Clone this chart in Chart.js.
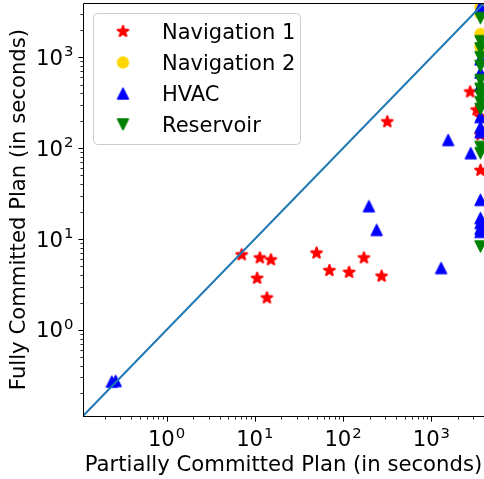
<!DOCTYPE html>
<html><head><meta charset="utf-8">
<script src="https://cdn.jsdelivr.net/npm/chart.js@4.4.0/dist/chart.umd.min.js"></script>
<style>html,body{margin:0;padding:0;background:#fff;}canvas{display:block;}</style>
</head><body>
<canvas id="c" width="484" height="479"></canvas>
<script>
const seriesNames = ['Navigation 1', 'Navigation 2', 'HVAC', 'Reservoir'];
const seriesColors = ['#ff0000', '#ffd700', '#0000ff', '#008000'];

const nav1X = [7.1, 10.6, 11.4, 13.7, 15.2, 50, 70, 117, 172, 273, 317, 2750, 3260, 3600, 3600, 3600];
const nav1Y = [6.7, 3.7, 6.2, 2.25, 5.9, 7.0, 4.5, 4.3, 6.2, 3.9, 195, 415, 263, 222, 140, 57];

const nav2X = [3600, 3600, 3600, 3600];
const nav2Y = [3600, 3000, 1800, 1300];

const hvacX = [0.24, 0.265, 196, 240, 1290, 1550, 2800, 3600, 3600, 3600, 3600, 3600, 3600, 3600, 3600, 3600, 3600, 3600, 3600];
const hvacY = [0.27, 0.275, 23, 12.6, 4.8, 123, 88, 3600, 950, 680, 490, 220, 170, 150, 27, 17, 15, 13, 12];

const resX = [3600, 3600, 3600, 3600, 3600, 3600, 3600, 3600, 3600, 3600, 3600, 3600, 3600];
const resY = [2700, 1500, 1250, 1000, 800, 560, 450, 380, 320, 270, 103, 88, 8.3];

const axisMin = 0.113, axisMax = 3950;
const diagX = [axisMin, axisMax];
const diagY = [axisMin, axisMax];

const majorTicks = [1, 10, 100, 1000];
const tickLabels = ['10^0', '10^1', '10^2', '10^3'];
const minorTicks = [0.2, 0.3, 0.4, 0.5, 0.6, 0.7, 0.8, 0.9, 2, 3, 4, 5, 6, 7, 8, 9,
  20, 30, 40, 50, 60, 70, 80, 90, 200, 300, 400, 500, 600, 700, 800, 900, 2000, 3000];

const xTitle = 'Partially Committed Plan (in seconds)';
const yTitle = 'Fully Committed Plan (in seconds)';

const FONT = '"DejaVu Sans", sans-serif';
const FS = 21.2;

function makeMarker(kind, color, size, lw) {
  const pad = 3;
  const dim = Math.ceil(size + 2 * pad);
  const c = document.createElement('canvas');
  c.width = dim; c.height = dim;
  const g = c.getContext('2d');
  const cx = dim / 2, cy = dim / 2, h = size / 2;
  g.beginPath();
  if (kind === 'star') {
    for (let i = 0; i < 10; i++) {
      const r = i % 2 === 0 ? h : h * 0.381966;
      const a = Math.PI / 2 + i * Math.PI / 5;
      const px = cx + r * Math.cos(a), py = cy - r * Math.sin(a);
      if (i === 0) g.moveTo(px, py); else g.lineTo(px, py);
    }
  } else if (kind === 'circle') {
    g.arc(cx, cy, h, 0, 2 * Math.PI);
  } else if (kind === 'up') {
    g.moveTo(cx, cy - h); g.lineTo(cx - h, cy + h); g.lineTo(cx + h, cy + h);
  } else {
    g.moveTo(cx, cy + h); g.lineTo(cx - h, cy - h); g.lineTo(cx + h, cy - h);
  }
  g.closePath();
  g.fillStyle = color; g.fill();
  g.lineWidth = lw; g.lineJoin = 'round'; g.strokeStyle = color; g.stroke();
  return c;
}

const markers = [
  makeMarker('star', seriesColors[0], 11, 2.2),
  makeMarker('circle', seriesColors[1], 11, 1.3),
  makeMarker('up', seriesColors[2], 11, 1.3),
  makeMarker('down', seriesColors[3], 11, 1.3)
];

function pts(xs, ys) { return xs.map((v, i) => ({ x: v, y: ys[i] })); }

function drawMath(ctx, label, x, y, align) {
  const [base, exp] = label.split('^');
  ctx.font = FS + 'px ' + FONT;
  const wb = ctx.measureText(base).width;
  ctx.font = (FS * 0.7) + 'px ' + FONT;
  const we = ctx.measureText(exp).width;
  const tot = wb + we + 1;
  let left = align === 'center' ? x - tot / 2 : x - tot;
  ctx.textAlign = 'left';
  ctx.textBaseline = 'alphabetic';
  ctx.font = FS + 'px ' + FONT;
  ctx.fillText(base, left, y);
  ctx.font = (FS * 0.7) + 'px ' + FONT;
  ctx.fillText(exp, left + wb + 1, y - 8.5);
}

const axesPlugin = {
  id: 'mplAxes',
  afterDatasetsDraw(chart) {
    const { ctx, chartArea: a, scales: { x, y } } = chart;
    ctx.save();
    ctx.strokeStyle = '#000';
    ctx.lineWidth = 1;
    ctx.beginPath();
    ctx.moveTo(a.left + 0.5, a.bottom + 1);
    ctx.lineTo(a.left + 0.5, a.top + 0.5);
    ctx.lineTo(a.right, a.top + 0.5);
    ctx.moveTo(a.left, a.bottom + 0.5);
    ctx.lineTo(a.right, a.bottom + 0.5);
    ctx.stroke();
    const tick = (v, len, w) => {
      const px = Math.round(x.getPixelForValue(v)) + 0.5;
      if (px >= a.left && px <= a.right) {
        ctx.lineWidth = w;
        ctx.beginPath(); ctx.moveTo(px, a.bottom + 1); ctx.lineTo(px, a.bottom + 1 + len); ctx.stroke();
      }
      const py = Math.round(y.getPixelForValue(v)) + 0.5;
      if (py >= a.top && py <= a.bottom) {
        ctx.lineWidth = w;
        ctx.beginPath(); ctx.moveTo(a.left, py); ctx.lineTo(a.left - len, py); ctx.stroke();
      }
    };
    minorTicks.forEach(v => tick(v, 2.6, 0.8));
    majorTicks.forEach(v => tick(v, 4.6, 1));
    ctx.fillStyle = '#000';
    majorTicks.forEach((v, i) => {
      drawMath(ctx, tickLabels[i], x.getPixelForValue(v), 446, 'center');
      drawMath(ctx, tickLabels[i], a.left - 9.5, y.getPixelForValue(v) + 7.5, 'right');
    });
    ctx.font = FS + 'px ' + FONT;
    ctx.textAlign = 'center';
    ctx.textBaseline = 'alphabetic';
    ctx.fillText(xTitle, (a.left + a.right) / 2, 471);
    ctx.save();
    ctx.translate(25, (a.top + a.bottom) / 2);
    ctx.rotate(-Math.PI / 2);
    ctx.fillText(yTitle, 0, 0);
    ctx.restore();
    ctx.font = '21px ' + FONT;
    const lx = 93.5, ly = 13.5, lw = 207, lh = 131, r = 4;
    ctx.beginPath();
    ctx.moveTo(lx + r, ly);
    ctx.lineTo(lx + lw - r, ly); ctx.arcTo(lx + lw, ly, lx + lw, ly + r, r);
    ctx.lineTo(lx + lw, ly + lh - r); ctx.arcTo(lx + lw, ly + lh, lx + lw - r, ly + lh, r);
    ctx.lineTo(lx + r, ly + lh); ctx.arcTo(lx, ly + lh, lx, ly + lh - r, r);
    ctx.lineTo(lx, ly + r); ctx.arcTo(lx, ly, lx + r, ly, r);
    ctx.closePath();
    ctx.fillStyle = 'rgba(255,255,255,0.8)';
    ctx.fill();
    ctx.strokeStyle = '#cccccc';
    ctx.lineWidth = 1;
    ctx.stroke();
    ctx.fillStyle = '#000';
    ctx.textAlign = 'left';
    seriesNames.forEach((name, i) => {
      const cy = 31.5 + 31 * i;
      const m = markers[i];
      ctx.drawImage(m, 123 - m.width / 2, cy - m.height / 2);
      ctx.fillText(name, 162, cy + 7.5);
    });
    ctx.restore();
  }
};

const common = { showLine: false, clip: 0, pointRadius: 6, pointHoverRadius: 6 };

new Chart(document.getElementById('c'), {
  type: 'scatter',
  data: {
    datasets: [
      { label: 'diag', data: pts(diagX, diagY), showLine: true, borderColor: '#1f77b4', borderWidth: 2,
        pointRadius: 0, pointHoverRadius: 0, clip: 0, order: 0 },
      Object.assign({ label: seriesNames[3], data: pts(resX, resY), pointStyle: markers[3], order: 1 }, common),
      Object.assign({ label: seriesNames[2], data: pts(hvacX, hvacY), pointStyle: markers[2], order: 2 }, common),
      Object.assign({ label: seriesNames[1], data: pts(nav2X, nav2Y), pointStyle: markers[1], order: 3 }, common),
      Object.assign({ label: seriesNames[0], data: pts(nav1X, nav1Y), pointStyle: markers[0], order: 4 }, common)
    ]
  },
  options: {
    responsive: false,
    animation: false,
    events: [],
    layout: { autoPadding: false, padding: { top: 3, right: 0, left: 0, bottom: 0 } },
    plugins: { legend: { display: false }, tooltip: { enabled: false } },
    scales: {
      x: { type: 'logarithmic', min: axisMin, max: axisMax, bounds: 'data',
        ticks: { display: false }, grid: { display: false }, border: { display: false },
        afterFit: s => { s.height = 63; } },
      y: { type: 'logarithmic', min: axisMin, max: axisMax, bounds: 'data',
        ticks: { display: false }, grid: { display: false }, border: { display: false },
        afterFit: s => { s.width = 83; } }
    }
  },
  plugins: [axesPlugin]
});
</script>
</body></html>
